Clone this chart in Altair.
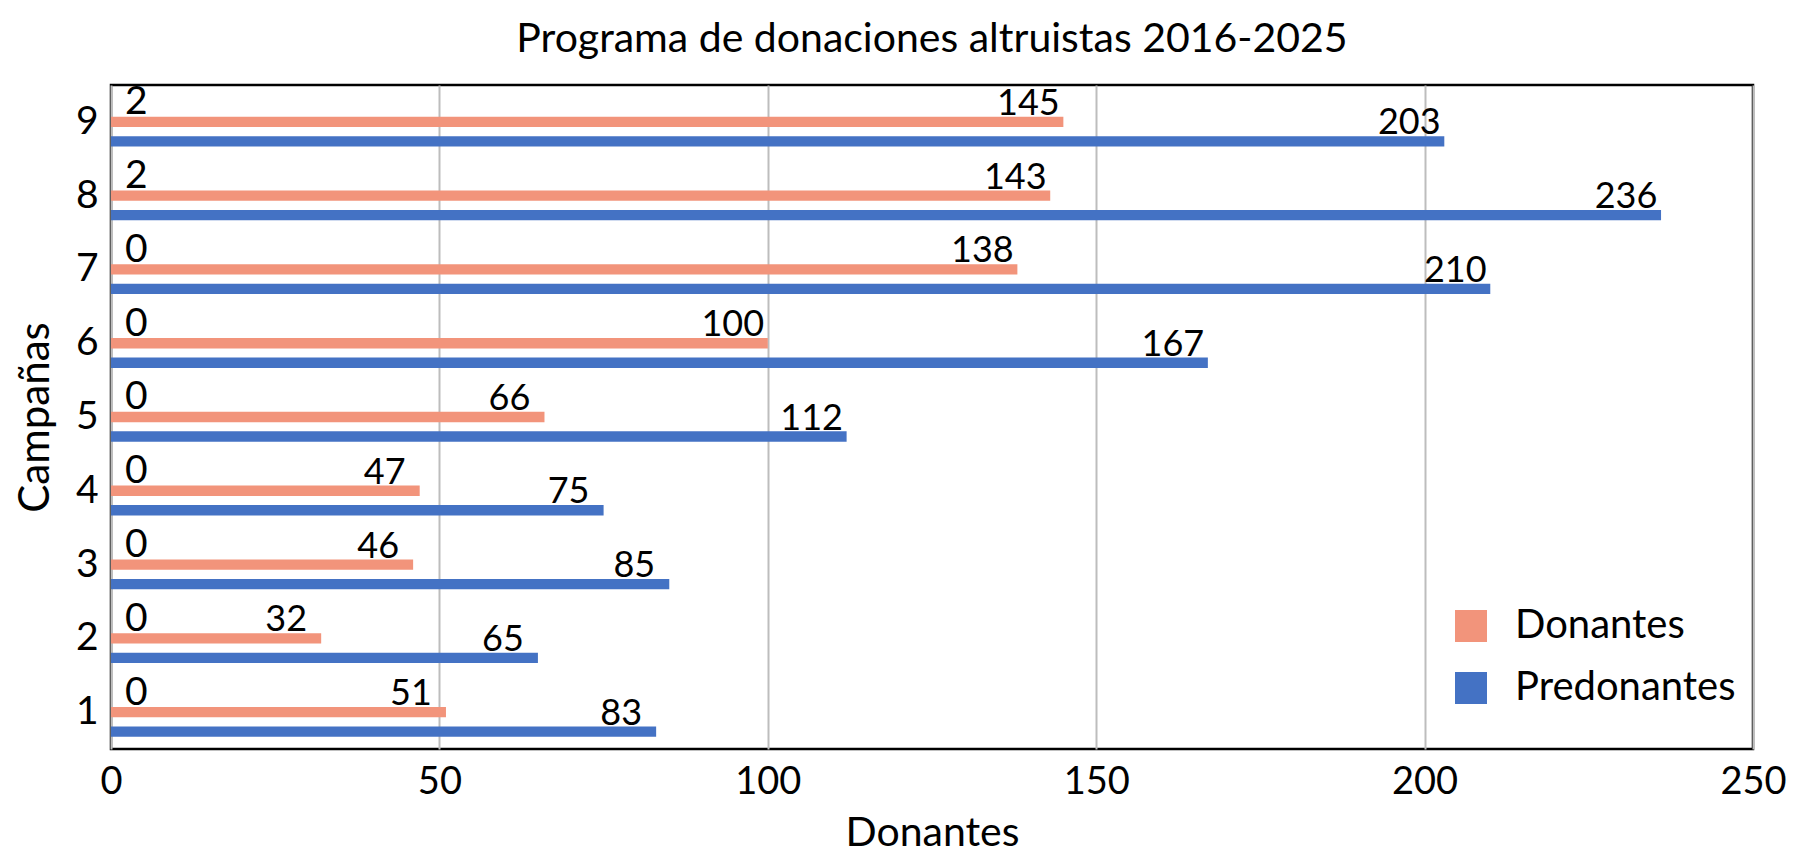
import altair as alt
import pandas as pd

campanas = [1, 2, 3, 4, 5, 6, 7, 8, 9]
donantes = [51, 32, 46, 47, 66, 100, 138, 143, 145]
predonantes = [83, 65, 85, 75, 112, 167, 210, 236, 203]
otros = [0, 0, 0, 0, 0, 0, 0, 2, 2]

series_order = ["Donaciones", "Donantes", "Predonantes"]

rows = []
for c, d, p in zip(campanas, donantes, predonantes):
    rows.append({"campana": c, "serie": "Donantes", "valor": d})
    rows.append({"campana": c, "serie": "Predonantes", "valor": p})
bars_df = pd.DataFrame(rows)
otros_df = pd.DataFrame({"campana": campanas, "serie": "Donaciones", "valor": otros})

FONT = "Lato"

y_enc = alt.Y("campana:O", sort="descending", title="Campañas",
              scale=alt.Scale(paddingInner=0.207, paddingOuter=0.1035),
              axis=alt.Axis(labelFontSize=39, labelPadding=13, ticks=False, domain=False,
                            labelColor="black", titleFontSize=42, titleFontWeight="normal",
                            titleColor="black", titleAngle=-90, titleX=-76, titleY=332,
                            titleAlign="center", titleBaseline="middle", grid=False))
yoff_enc = alt.YOffset("serie:N", sort=series_order,
                       scale=alt.Scale(domain=series_order, paddingInner=0.47, paddingOuter=0.235))
x_enc = alt.X("valor:Q", title="Donantes",
              scale=alt.Scale(domain=[0, 250], nice=False),
              axis=alt.Axis(values=[0, 50, 100, 150, 200, 250], labelFontSize=38, labelPadding=14,
                            labelFlush=False, ticks=False, domain=False, labelColor="black",
                            titleFontSize=41, titleFontWeight="normal", titleColor="black",
                            titleY=84, titleBaseline="middle",
                            grid=True, gridColor="#BDBDBD", gridWidth=2))

color_enc = alt.Color("serie:N",
                      scale=alt.Scale(domain=["Donantes", "Predonantes"], range=["#F2947B", "#4472C4"]),
                      legend=alt.Legend(title=None, orient="none", legendX=1340, legendY=521,
                                        symbolType="square", symbolSize=1024, symbolStrokeWidth=0,
                                        symbolOpacity=1, labelFontSize=40, labelOffset=24,
                                        labelLimit=0, rowPadding=22, padding=0, labelColor="black"))

bars = alt.Chart(bars_df).mark_bar(opacity=1).encode(
    y=y_enc, yOffset=yoff_enc, x=x_enc, color=color_enc
)

labels = alt.Chart(bars_df).mark_text(align="center", baseline="alphabetic", dx=-35, dy=-7,
                                      fontSize=36, font=FONT, color="black").encode(
    y=alt.Y("campana:O", sort="descending"), yOffset=alt.YOffset("serie:N", sort=series_order),
    x="valor:Q", text="valor:Q"
)

otros_labels = alt.Chart(otros_df).mark_text(align="left", baseline="alphabetic", dx=14, dy=12,
                                             fontSize=39, font=FONT, color="black").encode(
    y=alt.Y("campana:O", sort="descending"), yOffset=alt.YOffset("serie:N", sort=series_order),
    x=alt.value(0), text="valor:Q"
)

chart = alt.layer(bars, labels, otros_labels).properties(
    width=1642, height=664,
    title=alt.Title("Programa de donaciones altruistas 2016-2025", fontSize=41, font=FONT,
                    fontWeight="normal", color="black", anchor="middle", offset=22),
    autosize=alt.AutoSizeParams(type="none"),
    padding={"left": 103, "top": 77, "right": 34, "bottom": 107},
).configure(font=FONT).configure_view(stroke="black", strokeWidth=2.5)

chart.save("out.html", embed_options={"renderer": "svg", "actions": False})
